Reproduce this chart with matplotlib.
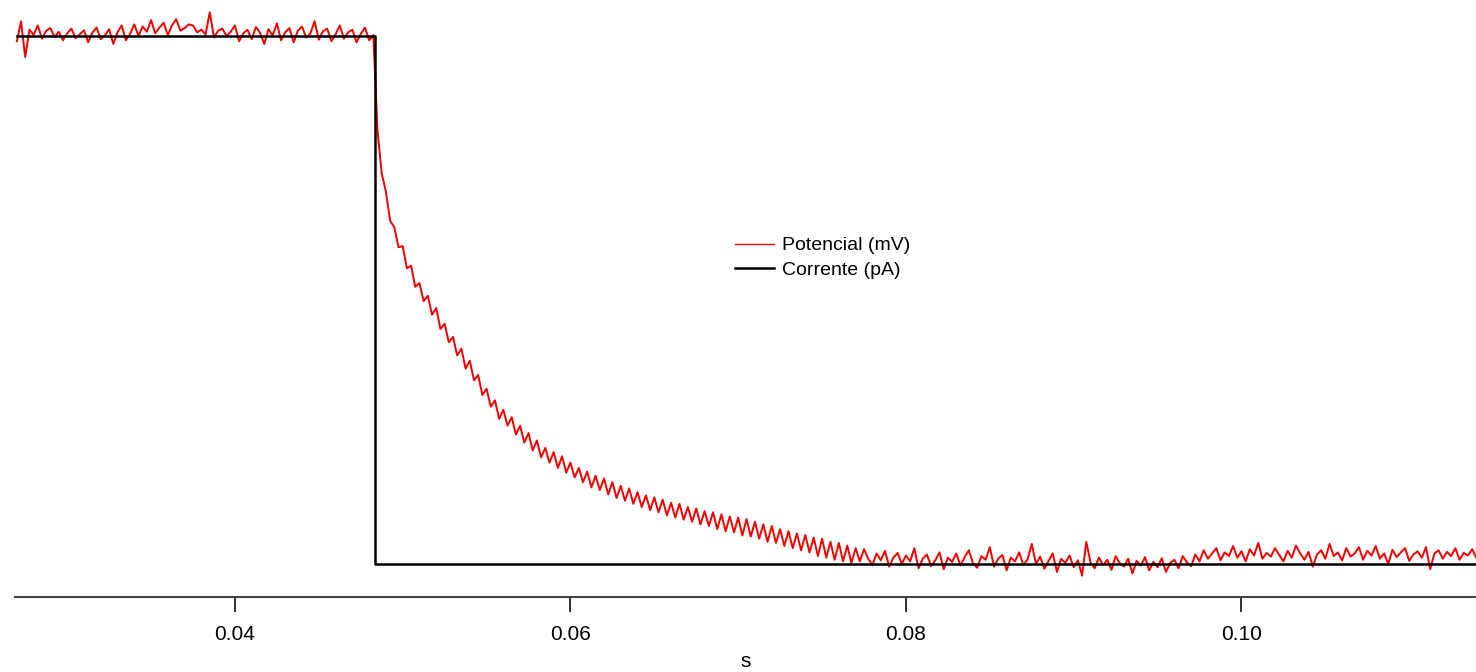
import numpy as np
import matplotlib
matplotlib.use('Agg')
import matplotlib.pyplot as plt

# membrane potential (mV), sampled every 0.25 ms starting at t = 0.027 s
t_start = 0.027
dt = 0.00025
potential = [
    -60.10, -59.72, -60.40, -59.88, -59.98, -59.80, -60.05, -59.90, -59.85, -60.02,
    -59.92, -60.08, -59.95, -59.86, -60.04, -59.97, -59.89, -60.12, -59.94, -59.84,
    -60.06, -59.99, -59.87, -60.15, -59.93, -59.80, -60.08, -59.96, -59.78, -60.00,
    -59.82, -59.92, -59.70, -59.95, -59.84, -59.75, -59.98, -59.80, -59.68, -59.90,
    -59.85, -59.78, -59.80, -59.93, -59.88, -59.97, -59.55, -60.03, -59.90, -59.86,
    -60.00, -59.92, -59.80, -60.10, -59.95, -59.88, -60.06, -59.83, -59.94, -60.15,
    -59.87, -59.99, -59.76, -60.08, -59.93, -59.85, -60.12, -59.90, -59.82, -60.03,
    -59.95, -59.72, -60.07, -59.91, -59.86, -60.10, -59.97, -59.80, -60.05, -59.93,
    -59.88, -60.12, -59.96, -59.84, -60.08, -59.98,
    -61.80, -62.60, -62.95, -63.50, -63.62, -64.00, -63.98, -64.40, -64.35, -64.75,
    -64.68, -65.02, -64.92, -65.28, -65.15, -65.55, -65.45, -65.80, -65.70, -66.05,
    -65.92, -66.30, -66.15, -66.52, -66.42, -66.80, -66.68, -67.02, -66.90, -67.25,
    -67.08, -67.38, -67.22, -67.55, -67.38, -67.70, -67.52, -67.85, -67.66, -67.98,
    -67.80, -68.08, -67.88, -68.18, -67.96, -68.27, -68.08, -68.36, -68.18, -68.45,
    -68.25, -68.55, -68.33, -68.60, -68.38, -68.68, -68.45, -68.75, -68.52, -68.80,
    -68.57, -68.86, -68.64, -68.92, -68.70, -68.98, -68.74, -69.02, -68.78, -69.08,
    -68.84, -69.12, -68.86, -69.16, -68.92, -69.20, -68.95, -69.25, -69.00, -69.28,
    -69.02, -69.34, -69.06, -69.38, -69.10, -69.40, -69.12, -69.46, -69.15, -69.48,
    -69.20, -69.52, -69.25, -69.58, -69.28, -69.60, -69.34, -69.66, -69.38, -69.70,
    -69.42, -69.74, -69.45, -69.78, -69.50, -69.85, -69.52, -69.88, -69.58, -69.92,
    -69.60, -69.95, -69.65, -69.98, -69.70,
    -69.95, -69.72, -69.90, -70.02, -69.80, -69.93, -69.75, -70.05, -69.88, -69.79,
    -70.00, -69.84, -69.95, -69.70, -70.08, -69.90, -69.82, -70.04, -69.93, -69.78,
    -70.10, -69.88, -69.96, -69.80, -70.03, -69.87, -69.74, -69.99, -70.07, -69.85,
    -69.92, -69.68, -70.05, -69.90, -69.83, -70.12, -69.88, -69.95, -69.78, -70.02,
    -69.91, -69.62, -70.00, -69.86, -70.09, -69.94, -69.80, -70.15, -69.90, -69.98,
    -69.84, -70.06, -69.93, -70.22, -69.58, -69.97, -70.08, -69.88, -70.02, -69.92,
    -70.11, -69.85, -69.99, -70.05, -69.90, -70.18, -69.94, -70.03, -69.87, -70.12,
    -69.96, -70.06, -69.89, -70.15, -69.98, -69.92, -70.08, -69.85, -69.97, -70.04,
    -69.82, -69.95, -69.74, -69.90, -69.80, -69.70, -69.93, -69.78, -69.85, -69.66,
    -69.88, -69.76, -69.95, -69.72, -69.84, -69.60, -69.90, -69.79, -69.86, -69.70,
    -69.83, -69.95, -69.75, -69.88, -69.65, -69.80, -69.92, -69.77, -70.05, -69.82,
    -69.74, -69.90, -69.62, -69.85, -69.78, -69.93, -69.70, -69.86, -69.80, -69.68,
    -69.92, -69.75, -69.84, -69.66, -69.90, -69.80, -70.00, -69.73, -69.87, -69.78,
    -69.70, -69.94, -69.82, -69.76, -69.88, -69.68, -70.10, -69.80, -69.74, -69.90,
    -69.77, -69.85, -69.70, -69.92, -69.79, -69.84, -69.72, -69.88,
]

# injected current step (pA)
current_t = [0.027, 0.04835, 0.04835, 0.114]
current = [0, 0, -50, -50]

xticks = [0.04, 0.06, 0.08, 0.10]
xtick_labels = ['0.04', '0.06', '0.08', '0.10']

t = t_start + dt * np.arange(len(potential))

plt.rcParams['font.family'] = ['Liberation Sans', 'DejaVu Sans']

fig = plt.figure(figsize=(14.76, 6.72), dpi=100)
ax = fig.add_axes([15 / 1476, 75 / 672, 1 - 15 / 1476, 597 / 672])

l1, = ax.plot(t, potential, color='#f00000', lw=1.4, label='Potencial (mV)')
ax.set_xlim(0.02689, 0.11398)
ax.set_ylim(-70.625, -59.318)

ax2 = ax.twinx()
l2, = ax2.plot(current_t, current, color='black', lw=1.8, label='Corrente (pA)')
ax2.set_ylim(-53.125, 3.41)

for a in (ax, ax2):
    for side in ('top', 'left', 'right'):
        a.spines[side].set_visible(False)
    a.set_yticks([])
ax2.spines['bottom'].set_visible(False)

ax.spines['bottom'].set_color('#444444')
ax.spines['bottom'].set_linewidth(1.5)
ax.set_xticks(xticks)
ax.set_xticklabels(xtick_labels, fontsize=15)
ax.tick_params(axis='x', length=11, width=1.3, color='#222222', pad=9)
ax.set_xlabel('s', fontsize=15, labelpad=6)

leg = fig.legend(handles=[l1, l2], loc='upper left', bbox_to_anchor=(727 / 1476, 1 - 229 / 672),
                 frameon=False, fontsize=14, handlelength=2.0, handletextpad=0.45,
                 labelspacing=0.35, borderaxespad=0)
leg.get_lines()[0].set_linewidth(1.0)

fig.savefig('out.png', dpi=100)
